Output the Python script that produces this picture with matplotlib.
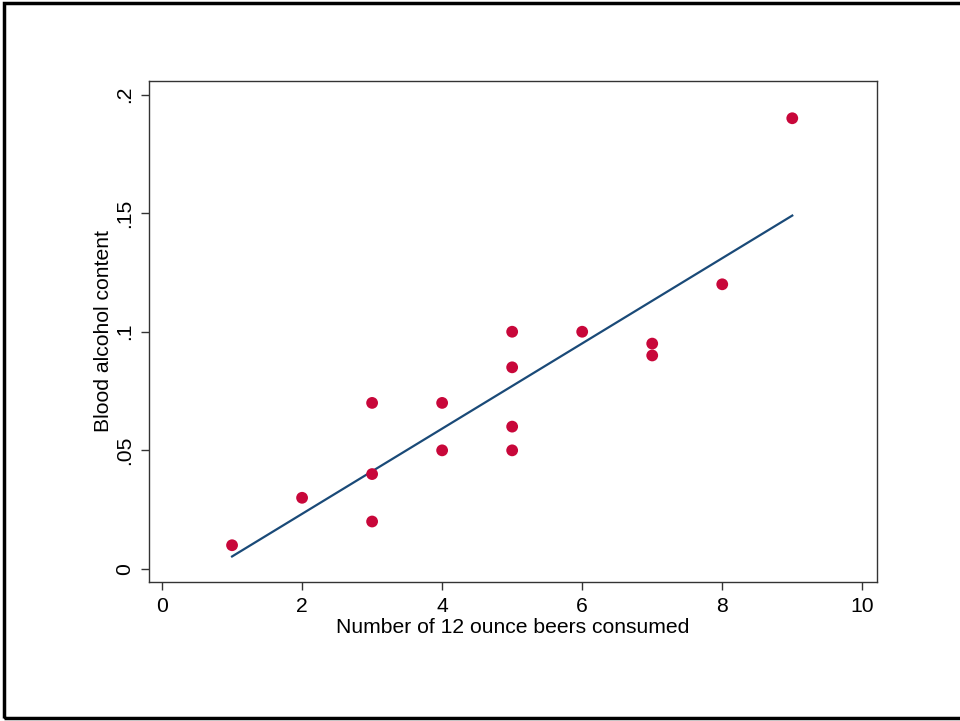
import numpy as np
import matplotlib.pyplot as plt
from matplotlib.patches import Rectangle

# --- data ---
beers = [1, 2, 3, 3, 3, 4, 4, 5, 5, 5, 5, 6, 7, 7, 8, 9]
bac = [0.01, 0.03, 0.07, 0.04, 0.02, 0.07, 0.05, 0.10, 0.085, 0.06,
       0.05, 0.10, 0.095, 0.09, 0.12, 0.19]
x_ticks = [0, 2, 4, 6, 8, 10]
y_ticks = [0, 0.05, 0.10, 0.15, 0.20]
y_tick_labels = ['0', '.05', '.1', '.15', '.2']

plt.rcParams['font.family'] = ['Liberation Sans', 'DejaVu Sans']

fig = plt.figure(figsize=(9.6, 7.21), dpi=100)
W, H = 960, 721
ax = fig.add_axes([149 / W, 1 - 582 / H, (877 - 149) / W, (582 - 81) / H])

# fitted line over the observed range
slope, icept = np.polyfit(beers, bac, 1)
xs = np.array([min(beers), max(beers)])
ax.plot(xs, icept + slope * xs, color='#1a4a78', lw=1.6, zorder=2)
ax.scatter(beers, bac, s=72, color='#c8073a', edgecolors='none', zorder=3)

ax.set_xlim(-0.186, 10.21)
ax.set_ylim(-0.0055, 0.2057)
ax.set_xticks(x_ticks)
ax.set_yticks(y_ticks)
ax.set_yticklabels(y_tick_labels, rotation=90, va='center')
ax.tick_params(direction='out', length=6, width=1, color='#333333',
               labelsize=15.2, pad=5)
for s in ax.spines.values():
    s.set_color('#333333')
    s.set_linewidth(1.0)

ax.set_xlabel('Number of 12 ounce beers consumed', fontsize=15.2, labelpad=1)
ax.set_ylabel('Blood alcohol content', fontsize=15.2, labelpad=1)

# outer frame round the graph region
fig.patches.append(Rectangle((4 / W, 3 / H), 1.0, 1 - 6 / H,
                             transform=fig.transFigure, fill=False,
                             edgecolor='black', lw=2.5))

fig.savefig('out.png', dpi=100)
